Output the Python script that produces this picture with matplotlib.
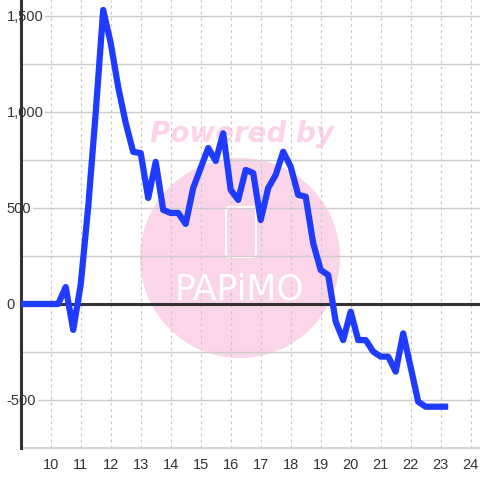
import matplotlib
matplotlib.use("Agg")
import matplotlib.pyplot as plt
from matplotlib.patches import Circle, FancyBboxPatch
from matplotlib.ticker import FuncFormatter

# data (quarter steps)
x_vals = [9.0, 9.25, 9.5, 9.75, 10.0, 10.25, 10.5, 10.75, 11.0, 11.25, 11.5, 11.75,
          12.0, 12.25, 12.5, 12.75, 13.0, 13.25, 13.5, 13.75, 14.0, 14.25, 14.5, 14.75,
          15.0, 15.25, 15.5, 15.75, 16.0, 16.25, 16.5, 16.75, 17.0, 17.25, 17.5, 17.75,
          18.0, 18.25, 18.5, 18.75, 19.0, 19.25, 19.5, 19.75, 20.0, 20.25, 20.5, 20.75,
          21.0, 21.25, 21.5, 21.75, 22.0, 22.25, 22.5, 22.75, 23.0, 23.25]
y_vals = [0, 0, 0, 0, 0, 0, 88, -135, 100, 505, 995, 1531,
          1359, 1130, 943, 792, 786, 552, 740, 490, 474, 474, 417, 604,
          708, 812, 745, 889, 594, 542, 698, 682, 437, 604, 672, 793,
          715, 568, 559, 316, 177, 151, -92, -188, -40, -188, -188, -248,
          -274, -274, -352, -153, -330, -509, -535, -535, -535, -535]
x_ticks = list(range(10, 25))
y_major = [-500, 0, 500, 1000, 1500]
y_minor = [-750, -250, 250, 750, 1250]

plt.rcParams['font.family'] = ['Liberation Sans', 'DejaVu Sans']

fig = plt.figure(figsize=(4.8, 4.8), dpi=100)
ax = fig.add_axes([20.7 / 480, 32 / 480, 1 - 20.7 / 480, 448 / 480])
ax.set_xlim(9, 24.31)
ax.set_ylim(-750, 1583)

# watermark
wm = dict(transform=fig.transFigure)
ax.add_patch(Circle((240 / 480, 1 - 258 / 480), 100 / 480, facecolor="#fbd5ea",
                    edgecolor="none", zorder=0.1, clip_on=False, **wm))
ax.add_patch(FancyBboxPatch((226 / 480, 1 - 257 / 480), 30 / 480, 50 / 480,
                            boxstyle="round,pad=0,rounding_size=0.008",
                            facecolor="none", edgecolor="white", linewidth=1.5,
                            zorder=0.2, clip_on=False, **wm))
fig.text(242 / 480, 1 - 134 / 480, "Powered by", ha="center", va="center",
         fontsize=20, fontweight="bold", fontstyle="italic", family="DejaVu Sans",
         color="#fcd3e9", zorder=0.2)
fig.text(240 / 480, 1 - 289 / 480, "PAPiMO", ha="center", va="center",
         fontsize=25, family="DejaVu Sans", color="white", zorder=0.2)
ax.patch.set_alpha(0)
fig.texts[0].set_zorder(-1)

# grid
ax.set_xticks(x_ticks)
ax.set_yticks(y_major)
ax.set_yticks(y_minor, minor=True)
ax.set_axisbelow(True)
ax.grid(axis="y", which="both", color="#cccccc", linewidth=1.0)
ax.grid(axis="x", color="#c8c8c8", linewidth=0.8, linestyle=(0, (2.5, 3)))

for s in ["top", "right", "bottom"]:
    ax.spines[s].set_visible(False)
ax.spines["left"].set_color("#333333")
ax.spines["left"].set_linewidth(2.2)
ax.axhline(0, color="#333333", linewidth=2.2, zorder=1.5)
ax.axhline(-750, color="#cccccc", linewidth=1.2, zorder=1.5, clip_on=False)

ax.plot(x_vals, y_vals, color="#1f3bff", linewidth=4.5, solid_joinstyle="round",
        solid_capstyle="butt", zorder=3)

ax.tick_params(axis="x", length=0, pad=7, labelsize=10.5, labelcolor="#333333")
ax.tick_params(axis="y", which="both", length=0, pad=10, labelsize=10.5,
               labelcolor="#333333")
ax.yaxis.set_major_formatter(FuncFormatter(lambda v, p: "{:,.0f}".format(v)))
for lab in ax.get_yticklabels():
    lab.set_horizontalalignment("left")
    lab.set_bbox(dict(facecolor="white", edgecolor="none", pad=1.0))
    lab.set_zorder(5)

fig.savefig("out.png", dpi=100)
